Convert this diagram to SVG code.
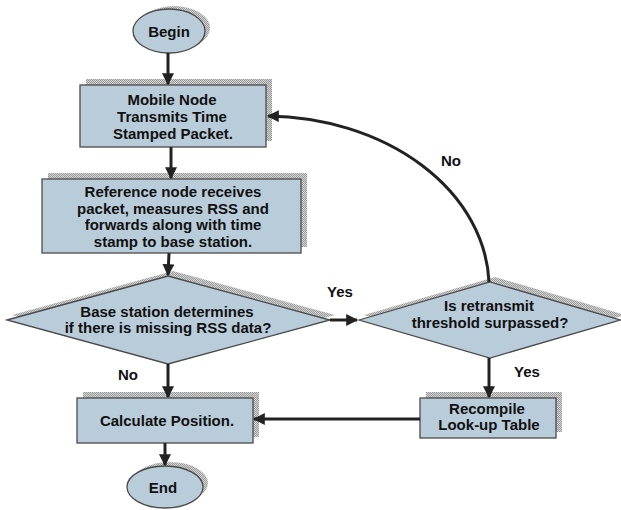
<svg xmlns="http://www.w3.org/2000/svg" width="621" height="510" viewBox="0 0 621 510">
<style>
.node{fill:#b9ccd9;stroke:#4a4a4a;stroke-width:1.3}
.shadow{fill:url(#hatch);stroke:none}
.t{font-family:"Liberation Sans",Arial,sans-serif;font-weight:bold;font-size:15px;fill:#111;text-anchor:middle}
.edge{fill:none;stroke:#222;stroke-width:3}
</style>
<defs>
<pattern id="hatch" width="2" height="2" patternUnits="userSpaceOnUse">
<rect width="2" height="2" fill="#d4d4d4"/>
<rect width="1" height="1" fill="#9a9a9a"/>
<rect x="1" y="1" width="1" height="1" fill="#9a9a9a"/>
</pattern>
<marker id="arr" viewBox="0 0 10 10" refX="9" refY="5" markerWidth="4" markerHeight="4" orient="auto" markerUnits="strokeWidth">
<path d="M0,0 L10,5 L0,10 z" fill="#222"/>
</marker>
</defs>
<rect width="621" height="510" fill="#fff"/>

<g id="begin">
<ellipse class="shadow" cx="174" cy="28" rx="36" ry="22"/>
<ellipse class="node" cx="169" cy="31" rx="36" ry="22"/>
<text class="t" x="169" y="37">Begin</text>
</g>

<g id="mobile">
<rect class="shadow" x="86" y="79" width="186" height="62"/>
<rect class="node" x="80" y="85" width="186" height="62"/>
<text class="t" x="172" y="105">Mobile Node</text>
<text class="t" x="172" y="122">Transmits Time</text>
<text class="t" x="173" y="139">Stamped Packet.</text>
</g>

<g id="reference">
<rect class="shadow" x="48" y="173" width="259" height="74"/>
<rect class="node" x="42" y="179" width="259" height="74"/>
<text class="t" x="173" y="197">Reference node receives</text>
<text class="t" x="173" y="213.5">packet, measures RSS and</text>
<text class="t" x="173" y="230">forwards along with time</text>
<text class="t" x="173" y="246.5">stamp to base station.</text>
</g>

<g id="decision1">
<polygon class="shadow" points="12,315 173,271 335,315 173,359"/>
<polygon class="node" points="7,320 168,276 330,320 168,364"/>
<text class="t" x="167" y="317">Base station determines</text>
<text class="t" x="168" y="333">if there is missing RSS data?</text>
</g>

<g id="decision2">
<polygon class="shadow" points="364,315 495,277 625,315 495,353"/>
<polygon class="node" points="359,320 490,282 620,320 490,358"/>
<text class="t" x="489" y="311">Is retransmit</text>
<text class="t" x="490" y="328">threshold surpassed?</text>
</g>

<g id="recompile">
<rect class="shadow" x="426" y="392" width="136" height="40"/>
<rect class="node" x="420" y="398" width="136" height="40"/>
<text class="t" x="487" y="414">Recompile</text>
<text class="t" x="489" y="430">Look-up Table</text>
</g>

<g id="calculate">
<rect class="shadow" x="83" y="392" width="176" height="45"/>
<rect class="node" x="77" y="398" width="176" height="45"/>
<text class="t" x="167" y="426">Calculate Position.</text>
</g>

<g id="end">
<ellipse class="shadow" cx="170" cy="483" rx="38" ry="21"/>
<ellipse class="node" cx="165" cy="487" rx="38" ry="21"/>
<text class="t" x="163" y="493">End</text>
</g>

<g id="connectors">
<path class="edge" d="M168,53 L168,84" marker-end="url(#arr)"/>
<path class="edge" d="M171,147 L171,178" marker-end="url(#arr)"/>
<path class="edge" d="M169,253 L168,275" marker-end="url(#arr)"/>
<path class="edge" d="M330,320 L357,320" marker-end="url(#arr)"/>
<path class="edge" d="M168,364 L168,397" marker-end="url(#arr)"/>
<path class="edge" d="M489,358 L489,397" marker-end="url(#arr)"/>
<path class="edge" d="M420,419 L254,419" marker-end="url(#arr)"/>
<path class="edge" d="M165,443 L165,465" marker-end="url(#arr)"/>
<path class="edge" d="M489,282 A225,172 0 0 0 268,116" marker-end="url(#arr)"/>
<text class="t" x="340" y="297">Yes</text>
<text class="t" x="527" y="377">Yes</text>
<text class="t" x="128" y="380">No</text>
<text class="t" x="451" y="166">No</text>
</g>
</svg>
